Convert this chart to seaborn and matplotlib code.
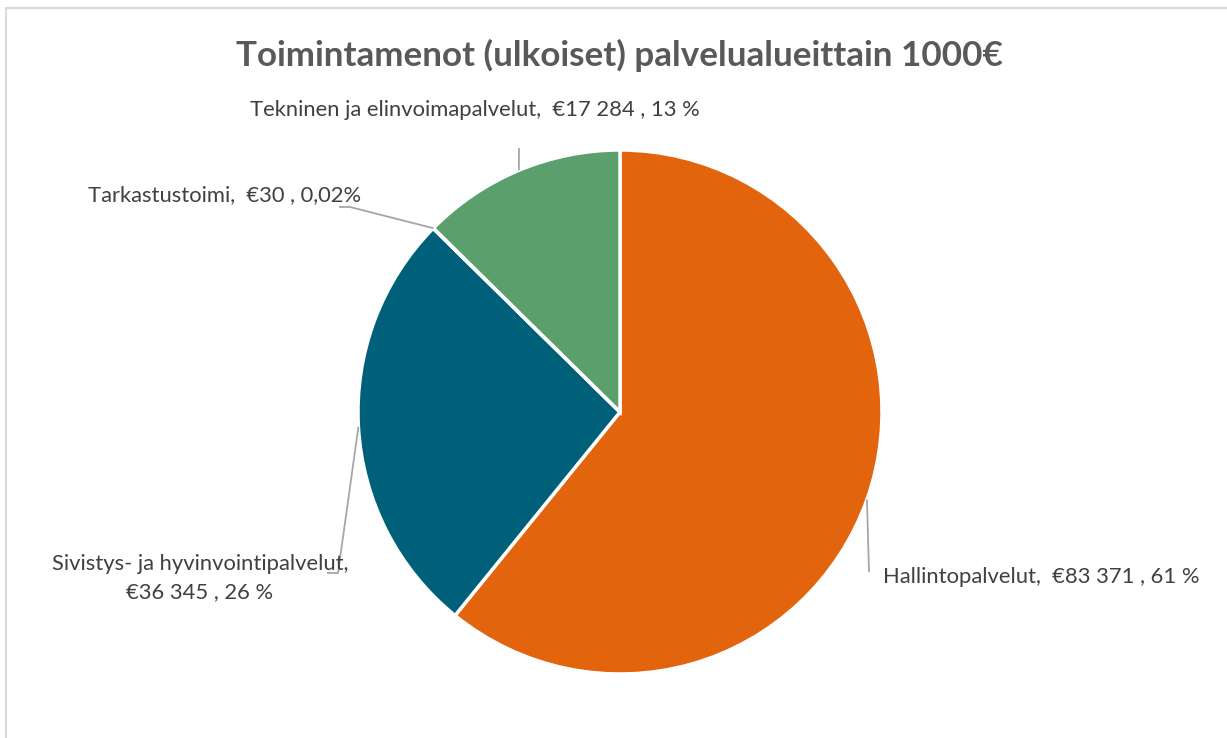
import numpy as np
import matplotlib
matplotlib.use("Agg")
import matplotlib.pyplot as plt
import seaborn as sns

# ---- data ----
categories = ["Hallintopalvelut", "Sivistys- ja hyvinvointipalvelut", "Tarkastustoimi",
              "Tekninen ja elinvoimapalvelut"]
values = [83371, 36345, 30, 17284]
pct_labels = ["61 %", "26 %", "0,02%", "13 %"]
colors = ["#E2640C", "#006079", "#006079", "#5BA06C"]
title = "Toimintamenot (ulkoiset) palvelualueittain 1000€"

sns.set_theme(style="white")
plt.rcParams["font.family"] = ["Lato", "DejaVu Sans"]

W, H = 1227, 738
fig = plt.figure(figsize=(W / 100, H / 100), dpi=100)
ax = fig.add_axes([0, 0, 1, 1])

def Y(py):
    return H - py

cx, cy, R = 620, 412, 262
wedges, _ = ax.pie(values, colors=colors, startangle=90, counterclock=False,
                   center=(cx, Y(cy)), radius=R,
                   wedgeprops=dict(edgecolor="white", linewidth=2.5))
ax.set_xlim(0, W)
ax.set_ylim(0, H)
ax.set_aspect("equal")
ax.axis("off")

def fmt_val(v):
    return "€" + f"{v:,}".replace(",", " ")

texts = [f"{c},  {fmt_val(v)} , {p}" for c, v, p in zip(categories, values, pct_labels)]
texts[1] = f"{categories[1]},\n{fmt_val(values[1])} , {pct_labels[1]}"

# label layout (pixel positions) and leader line bends
label_pos = [(883, 577, "left"), (200, 578, "center"), (88, 195, "left"), (475, 110, "center")]
line_paths = [[(869, 572)], [(338, 573), (327, 573)], [(350, 207), (339, 207)], [(519, 148)]]

tcol = "#404040"
lcol = "#A6A6A6"
for w, (lx, ly, ha), path, t in zip(wedges, label_pos, line_paths, texts):
    mid = np.deg2rad((w.theta1 + w.theta2) / 2)
    sx = cx + R * np.cos(mid)
    sy = Y(cy) + R * np.sin(mid)
    xs = [sx] + [p[0] for p in path]
    ys = [sy] + [Y(p[1]) for p in path]
    ax.plot(xs, ys, color=lcol, lw=1.3, solid_capstyle="butt", zorder=1)
    ax.text(lx, Y(ly), t, ha=ha, va="center", fontsize=15.8, color=tcol,
            linespacing=1.45)

ax.text(619, Y(55), title, ha="center", va="center", fontsize=25.2,
        fontweight="bold", color="#595959")

# chart frame
ax.plot([6, W + 5], [Y(8), Y(8)], color="#D9D9D9", lw=1.5, clip_on=False)
ax.plot([6, 6], [Y(8), -5], color="#D9D9D9", lw=1.5, clip_on=False)

fig.savefig("out.png", dpi=100, facecolor="white")
